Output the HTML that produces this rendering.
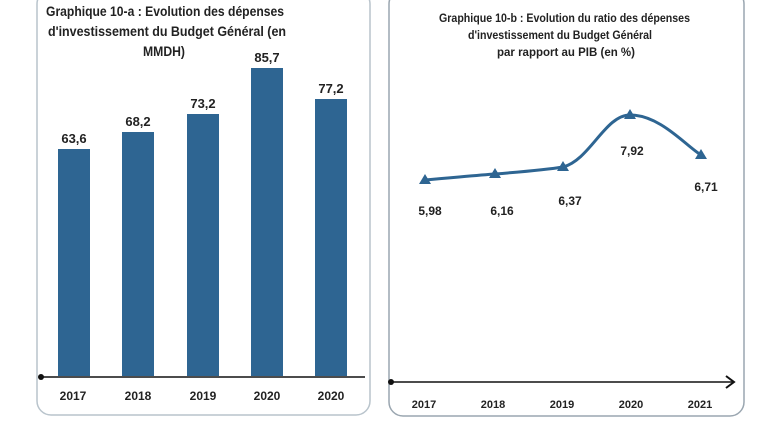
<!DOCTYPE html>
<html><head><meta charset="utf-8"><style>
body{margin:0;background:#fff;width:768px;height:432px;overflow:hidden}
svg text{font-family:"Liberation Sans",sans-serif;font-weight:bold;fill:#222}
</style></head><body>
<svg width="768" height="432" viewBox="0 0 768 432">
<rect x="37" y="-10" width="333" height="425" rx="14" fill="none" stroke="#b9c4cc" stroke-width="1.5"/>
<rect x="389" y="-10" width="355" height="426" rx="14" fill="none" stroke="#9aa6b0" stroke-width="1.5"/>
<g font-size="13.5" lengthAdjust="spacingAndGlyphs">
<text x="46" y="16" textLength="238" lengthAdjust="spacingAndGlyphs">Graphique 10-a : Evolution des dépenses</text>
<text x="48" y="36" textLength="238" lengthAdjust="spacingAndGlyphs">d'investissement du Budget Général (en</text>
<text x="143" y="56" textLength="42" lengthAdjust="spacingAndGlyphs">MMDH)</text>
</g>
<g fill="#2e6592">
<rect x="58" y="149" width="32" height="227"/>
<rect x="122" y="132" width="32" height="244"/>
<rect x="187" y="114" width="32" height="262"/>
<rect x="251" y="68" width="32" height="308"/>
<rect x="315" y="99" width="32" height="277"/>
</g>
<g font-size="13" text-anchor="middle">
<text x="74" y="143">63,6</text><text x="138" y="126">68,2</text><text x="203" y="108">73,2</text><text x="267" y="62">85,7</text><text x="331" y="93">77,2</text>
</g>
<line x1="40" y1="377" x2="365" y2="377" stroke="#111" stroke-width="1.5"/>
<circle cx="41" cy="377" r="3" fill="#111"/>
<g font-size="12" text-anchor="middle">
<text x="73" y="400">2017</text><text x="138" y="400">2018</text><text x="203" y="400">2019</text><text x="267" y="400">2020</text><text x="331" y="400">2020</text>
</g>
<g font-size="12">
<text x="439" y="22" textLength="251" lengthAdjust="spacingAndGlyphs">Graphique 10-b : Evolution du ratio des dépenses</text>
<text x="468" y="39" textLength="184" lengthAdjust="spacingAndGlyphs">d'investissement du Budget Général</text>
<text x="497" y="56" textLength="138" lengthAdjust="spacingAndGlyphs">par rapport au PIB (en %)</text>
</g>
<path d="M425,180 C460,177 480,175 495,174 C520,172 545,170 563,167 C590,160 605,115 630,115 C660,115 685,145 701,155" fill="none" stroke="#2e6592" stroke-width="3"/>
<g fill="#2e6592">
<polygon points="425,174 431,184 419,184"/><polygon points="495,168 501,178 489,178"/><polygon points="563,161 569,171 557,171"/><polygon points="630,109 636,119 624,119"/><polygon points="701,149 707,159 695,159"/>
</g>
<g font-size="12" text-anchor="middle">
<text x="430" y="215">5,98</text><text x="502" y="215">6,16</text><text x="570" y="205">6,37</text><text x="632" y="155">7,92</text><text x="706" y="191">6,71</text>
</g>
<line x1="391" y1="382" x2="733" y2="382" stroke="#111" stroke-width="1.5"/>
<circle cx="391" cy="382" r="3" fill="#111"/>
<polyline points="726,376 734,382 726,388" fill="none" stroke="#111" stroke-width="2"/>
<g font-size="11" text-anchor="middle">
<text x="424" y="408">2017</text><text x="493" y="408">2018</text><text x="562" y="408">2019</text><text x="631" y="408">2020</text><text x="700" y="408">2021</text>
</g>
</svg>
</body></html>
